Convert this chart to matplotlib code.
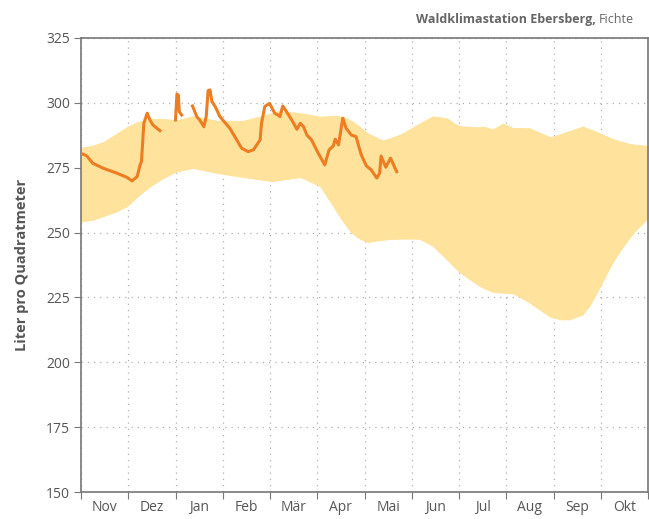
import numpy as np
import matplotlib
matplotlib.use("Agg")
import matplotlib.pyplot as plt

plt.rcParams['font.family'] = ['Open Sans', 'DejaVu Sans']

months = ['Nov', 'Dez', 'Jan', 'Feb', 'Mär', 'Apr', 'Mai', 'Jun', 'Jul', 'Aug', 'Sep', 'Okt']

# spread of earlier years (x in months since 1 Nov)
band_x = [0.0, 0.25, 0.47, 0.72, 0.97, 1.2, 1.46, 1.75, 2.03, 2.37, 2.88, 3.43, 3.79, 4.0, 4.15,
          4.64, 5.06, 5.42, 5.6, 5.76, 5.91, 6.1, 6.29, 6.5, 6.82, 7.15, 7.45, 7.75, 7.96,
          8.23, 8.51, 8.72, 8.93, 9.14, 9.50, 9.7, 9.86, 10.0, 10.20, 10.62, 10.98, 11.2,
          11.41, 11.7, 12.0]
band_hi = [282.8, 283.6, 285.0, 287.8, 290.8, 292.7, 294.0, 293.9, 293.4, 295.0, 293.2, 293.2, 294.0, 295.8, 297.0,
           296.2, 294.8, 295.2, 294.4, 292.8, 290.8, 287.8, 285.3, 286.0, 288.4, 292.0, 295.0, 294.2, 291.5,
           290.0, 291.0, 290.0, 292.2, 290.5, 290.3, 288.2, 286.9, 287.0, 288.4, 291.0, 288.4, 286.6,
           285.0, 284.0, 283.5]
low_x = [0.0, 0.25, 0.47, 0.72, 0.97, 1.2, 1.46, 1.75, 2.03, 2.37, 2.88, 3.43, 4.06, 4.49, 4.85,
         5.06, 5.25, 5.42, 5.69, 5.85, 6.05, 6.39, 6.75, 7.18, 7.4, 7.60, 8.02, 8.44, 8.72,
         9.23, 9.50, 9.93, 10.15, 10.35, 10.62, 10.78, 10.92, 11.26, 11.62, 12.0]
band_lo = [254.2, 254.8, 256.2, 257.8, 260.0, 263.8, 267.7, 271.0, 273.5, 274.8, 272.9, 271.3, 269.7,
           271.0, 271.6, 267.7, 263.0, 257.5, 250.4, 248.0, 246.2, 247.2, 247.6, 247.5, 245.5,
           242.1, 234.4, 229.2, 227.0, 226.3, 222.8, 217.4, 216.4, 216.4, 218.3, 222.0, 226.7,
           238.8, 248.5, 255.5]

# current year, three pieces with gaps
s1_x = [0.0, 0.12, 0.25, 0.47, 0.76, 0.97, 1.08, 1.19, 1.25, 1.28, 1.33, 1.40, 1.46, 1.52, 1.67]
s1_y = [280.5, 279.6, 276.7, 274.8, 272.9, 271.3, 269.9, 271.6, 276.1, 277.4, 292.1, 296.0, 293.4, 291.5, 289.3]
s2_x = [2.00, 2.03, 2.06, 2.08, 2.13]
s2_y = [293.4, 303.4, 303.0, 296.6, 295.3]
s3_x = [2.36, 2.45, 2.52, 2.60, 2.65, 2.69, 2.73, 2.77, 2.84, 2.94, 3.15, 3.40, 3.54, 3.65,
        3.79, 3.82, 3.89, 3.99, 4.10, 4.17, 4.21, 4.27, 4.35, 4.46, 4.57, 4.64, 4.71, 4.78,
        4.88, 5.02, 5.16, 5.25, 5.34, 5.38, 5.45, 5.54, 5.61, 5.72, 5.82, 5.93, 6.04, 6.14,
        6.26, 6.32, 6.35, 6.45, 6.55, 6.68]
s3_y = [298.8, 294.7, 293.2, 290.8, 294.7, 304.7, 305.0, 300.5, 298.6, 294.7, 290.2, 282.5, 281.2, 281.9,
        285.7, 292.1, 298.6, 299.8, 296.0, 295.3, 294.7, 298.8, 296.6, 293.4, 289.8, 292.1, 290.8, 287.6,
        285.7, 280.6, 276.1, 281.9, 283.4, 286.0, 283.8, 294.1, 290.2, 287.6, 287.0, 280.0, 275.7, 274.2,
        271.0, 272.9, 279.5, 275.2, 278.7, 273.5]

fig = plt.figure(figsize=(6.49, 5.19), dpi=100)
ax = fig.add_axes([0.1248, 0.052, 0.8737, 0.8748])

ax.fill_between(band_x, band_hi, np.interp(band_x, low_x, band_lo), color='#ffe29b', lw=0, zorder=1)
ax.fill_between(low_x, np.interp(low_x, band_x, band_hi), band_lo, color='#ffe29b', lw=0, zorder=1)
for sx, sy in [(s1_x, s1_y), (s2_x, s2_y), (s3_x, s3_y)]:
    ax.plot(sx, sy, color='#ec7d22', lw=2.2, solid_joinstyle='round', zorder=3)

ax.set_xlim(0, 12)
ax.set_ylim(150, 325)
ax.set_yticks(np.arange(150, 326, 25))
ax.set_xticks(np.arange(0, 13))
ax.set_xticklabels([])
ax.set_xticks(np.arange(12) + 0.5, minor=True)
ax.set_xticklabels(months, minor=True)
ax.tick_params(axis='x', which='minor', length=0, pad=6)
ax.tick_params(axis='both', which='major', length=5, color='#777777', direction='out')
ax.tick_params(axis='both', which='both', labelsize=10, labelcolor='#555555')
ax.tick_params(axis='y', pad=3)

ax.grid(True, which='major', linestyle=(0, (1, 4)), color='#b0b0b0', lw=0.9, zorder=0)
ax.set_axisbelow(True)
for s in ax.spines.values():
    s.set_color('#777777')
    s.set_linewidth(1.2)

ax.set_ylabel('Liter pro Quadratmeter', fontsize=10.5, fontweight='bold', color='#555555', labelpad=12)

# title: normal part right-aligned, bold part placed just left of it
t2 = fig.text(0.977, 0.962, 'Fichte', ha='right', va='center', fontsize=9, color='#666666')
r = fig.canvas.get_renderer()
bb = t2.get_window_extent(r)
fig.text((bb.x0 - 3) / fig.bbox.width, 0.962, 'Waldklimastation Ebersberg,', ha='right', va='center',
         fontsize=9, fontweight='bold', color='#666666')

fig.savefig('out.png', dpi=100)
